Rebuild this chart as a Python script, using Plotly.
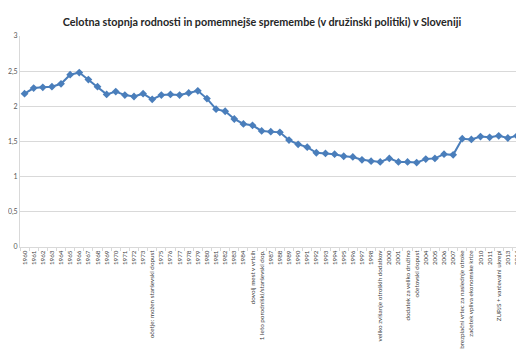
import plotly.graph_objects as go

years = list(range(1960, 2016))
tfr = [2.18, 2.26, 2.27, 2.28, 2.32, 2.45, 2.48, 2.38, 2.28, 2.17,
       2.21, 2.16, 2.14, 2.18, 2.10, 2.16, 2.17, 2.16, 2.19, 2.22,
       2.11, 1.96, 1.93, 1.82, 1.75, 1.73, 1.65, 1.64, 1.63, 1.52,
       1.46, 1.42, 1.34, 1.33, 1.32, 1.29, 1.28, 1.24, 1.22, 1.21,
       1.26, 1.21, 1.21, 1.20, 1.25, 1.26, 1.32, 1.31, 1.54, 1.53,
       1.57, 1.56, 1.58, 1.55, 1.58, 1.57]
events = {
    1974: "očetje: možen starševski dopust",
    1985: "dovolj mest v vrtcih",
    1986: "1 leto porodniški/starševski dop.",
    1999: "veliko zvišanje otroških dodatkov",
    2002: "dodatek za veliko družino",
    2003: "očetovski dopust",
    2008: "brezplačni vrtec za naslednje otroke",
    2009: "začetek vpliva ekonomske krize",
    2012: "ZUPJS + varčevalni ukrepi",
}
tick_labels = [events.get(y, str(y)) for y in years]
idx = list(range(len(years)))

fig = go.Figure()
fig.add_trace(go.Scatter(
    x=idx, y=tfr, mode="lines+markers",
    line=dict(color="#4a7ebb", width=2),
    marker=dict(symbol="diamond", size=6, color="#4a7ebb"),
    cliponaxis=True, hoverinfo="y",
))

# page body has an 8px margin, so the figure is sized to the visible area
fig.update_layout(
    width=516, height=346,
    margin=dict(l=12, r=0, t=28, b=107, autoexpand=False),
    paper_bgcolor="white", plot_bgcolor="white",
    showlegend=False,
    font=dict(family="Lato, Liberation Sans, sans-serif", color="#595959"),
    title=dict(
        text="<b>Celotna stopnja rodnosti in pomemnejše spremembe (v družinski politiki) v Sloveniji</b>",
        x=(262 - 8) / 516, xanchor="center", y=1 - 14 / 346, yanchor="middle", yref="container",
        font=dict(size=10.8, color="#262626"),
    ),
)

fig.update_xaxes(
    automargin=False,
    range=[-0.5, 54.77],
    tickmode="array", tickvals=idx, ticktext=tick_labels,
    tickangle=-90, tickfont=dict(size=6.3, color="#404040"),
    ticks="", showgrid=False, zeroline=False,
    showline=True, linecolor="#d9d9d9", linewidth=1,
    minor=dict(ticks="outside", tick0=-0.5, dtick=1, ticklen=3, tickcolor="#d9d9d9", showgrid=False),
)
fig.update_yaxes(
    automargin=False,
    range=[0, 3], tickmode="array",
    tickvals=[0, 0.5, 1, 1.5, 2, 2.5, 3],
    ticktext=["0", "0,5", "1", "1,5", "2", "2,5", "3"],
    tickfont=dict(size=7, color="#595959"),
    showgrid=True, gridcolor="#d9d9d9", gridwidth=1,
    zeroline=False, showline=True, linecolor="#d9d9d9",
    ticks="",
)

fig.write_html("out.html")
